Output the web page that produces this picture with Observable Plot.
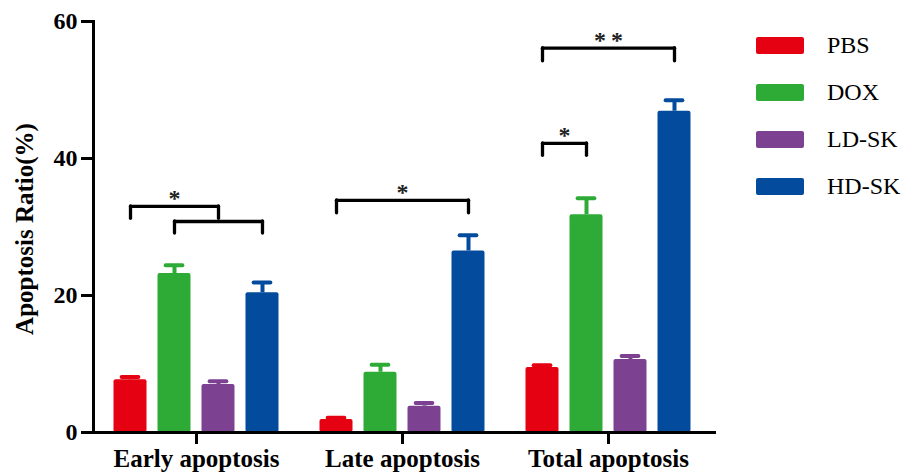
<!DOCTYPE html>
<html><head><meta charset="utf-8">
<script src="https://cdn.jsdelivr.net/npm/d3@7"></script>
<script src="https://cdn.jsdelivr.net/npm/@observablehq/plot@0.6"></script>
<style>
body{margin:0;background:#fff;}
#wrap{position:relative;width:905px;height:476px;}
#legend{position:absolute;left:756px;top:37px;font-family:"Liberation Serif","Times New Roman",serif;font-size:24px;color:#000;}
.row{display:flex;align-items:center;height:17px;margin-bottom:30px;white-space:nowrap;}
.sw{width:48px;height:17px;border-radius:2px;margin-right:23px;flex:none;}
</style></head><body><div id="wrap"><div id="legend"></div></div>
<script>
const categories = ["Early apoptosis", "Late apoptosis", "Total apoptosis"];
const groups = ["PBS", "DOX", "LD-SK", "HD-SK"];
const colors = ["#e50012", "#2eab36", "#7c4191", "#024b9d"];
const earlyValues = [7.7, 23.2, 7.0, 20.4];
const earlyErrors = [0.4, 1.2, 0.5, 1.5];
const lateValues = [1.9, 8.8, 3.85, 26.5];
const lateErrors = [0.25, 1.1, 0.45, 2.3];
const totalValues = [9.5, 31.8, 10.65, 46.9];
const totalErrors = [0.3, 2.4, 0.5, 1.6];
const yTicks = [0, 20, 40, 60];
const yLabel = "Apoptosis Ratio(%)";
const bracketCategory = ["Early apoptosis", "Early apoptosis", "Late apoptosis", "Total apoptosis", "Total apoptosis"];
const bracketFrom = ["PBS", "DOX", "PBS", "PBS", "PBS"];
const bracketTo = ["LD-SK", "HD-SK", "HD-SK", "HD-SK", "DOX"];
const bracketY = [33.0, 30.8, 33.9, 56.1, 42.2];
const bracketLegY = [31.2, 29.05, 32.0, 54.2, 40.4];
const bracketLabel = ["*", "", "*", "*\u2009*", "*"];

const valueSets = [earlyValues, lateValues, totalValues];
const errorSets = [earlyErrors, lateErrors, totalErrors];
const rows = categories.flatMap((c, ci) => groups.map((g, gi) => ({
  cat: c, group: g, i: gi, value: valueSets[ci][gi], err: errorSets[ci][gi]
})));
const brackets = bracketCategory.map((c, k) => ({
  cat: c, a: groups.indexOf(bracketFrom[k]), b: groups.indexOf(bracketTo[k]),
  y: bracketY[k], leg: bracketLegY[k], label: bracketLabel[k]
}));
const legs = brackets.flatMap(d => [
  {cat: d.cat, x: d.a, y1: d.y, y2: d.leg},
  {cat: d.cat, x: d.b, y1: d.y, y2: d.leg}
]);

const chart = Plot.plot({
  width: 905, height: 476,
  marginLeft: 93, marginRight: 194, marginTop: 21, marginBottom: 44,
  style: {fontFamily: '"Liberation Serif","Times New Roman",serif', fontSize: "24px", fontWeight: "bold", color: "#000", background: "#fff"},
  fx: {domain: categories, padding: 0, label: null},
  x: {domain: [-0.841, 3.841], axis: null},
  y: {domain: [0, 60], label: null},
  color: {domain: groups, range: colors},
  marks: [
    Plot.rect(rows, {fx: "cat", x1: d => d.i - 0.375, x2: d => d.i + 0.375, y1: 0, y2: "value", fill: "group", rx: 2}),
    Plot.ruleX(rows, {fx: "cat", x: "i", y1: "value", y2: d => d.value + d.err, stroke: "group", strokeWidth: 4}),
    Plot.ruleY(rows, {fx: "cat", y: d => d.value + d.err, x1: d => d.i - 0.19, x2: d => d.i + 0.19, stroke: "group", strokeWidth: 4, strokeLinecap: "round"}),
    Plot.link(brackets, {fx: "cat", x1: "a", x2: "b", y1: "y", y2: "y", stroke: "#000", strokeWidth: 3.3, strokeLinecap: "round"}),
    Plot.ruleX(legs, {fx: "cat", x: "x", y1: "y1", y2: "y2", stroke: "#000", strokeWidth: 3.3, strokeLinecap: "round"}),
    Plot.text(brackets, {fx: "cat", x: d => (d.a + d.b) / 2, y: "y", text: "label", dy: -8, fontSize: 24, fill: "#222"}),
    Plot.ruleY([0], {stroke: "#000", strokeWidth: 3, insetLeft: -11, insetRight: -5}),
    Plot.frame({anchor: "left", facetAnchor: "left", stroke: "#000", strokeWidth: 3}),
    Plot.axisY({ticks: yTicks, tickSize: 12, tickPadding: 4, strokeWidth: 3, label: null, fontSize: 24}),
    Plot.text([yLabel], {fx: () => categories[0], text: d => d, frameAnchor: "left", textAnchor: "middle", rotate: -90, dx: -69, dy: 2, fontSize: 25}),
    Plot.axisFx({anchor: "bottom", tickSize: 12, tickPadding: 5, strokeWidth: 3, label: null, fontSize: 25})
  ]
});
document.getElementById("wrap").prepend(chart);

const legend = document.getElementById("legend");
groups.forEach((g, k) => {
  const row = document.createElement("div");
  row.className = "row";
  const sw = document.createElement("div");
  sw.className = "sw";
  sw.style.background = colors[k];
  const t = document.createElement("span");
  t.textContent = g;
  row.append(sw, t);
  legend.append(row);
});
</script></body></html>
